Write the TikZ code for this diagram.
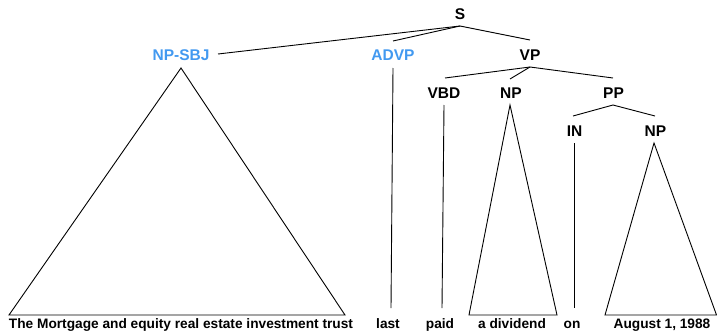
\documentclass[tikz,border=0pt]{standalone}
\usepackage{fontspec}
\setmainfont{Liberation Sans}
\definecolor{funclabel}{RGB}{66,153,240}
\tikzset{
  cat/.style={anchor=base, inner sep=0pt, font=\fontsize{15.5}{16}\selectfont\bfseries},
  funccat/.style={cat, text=funclabel},
  leaf/.style={anchor=base, inner sep=0pt, font=\fontsize{13.7}{14}\selectfont\bfseries},
  branch/.style={draw=black, line width=0.9pt, line join=miter}
}
\begin{document}
\begin{tikzpicture}[x=1pt, y=-1pt]
\useasboundingbox (0,0) rectangle (717,332);

% category labels
\node[cat]     (S)     at (460,19)   {S};
\node[funccat] (npsbj) at (181,60)   {NP-SBJ};
\node[funccat] (advp)  at (393,60)   {ADVP};
\node[cat]     (vp)    at (530,60)   {VP};
\node[cat]     (vbd)   at (444,98)   {VBD};
\node[cat]     (npa)   at (511,98)   {NP};
\node[cat]     (pp)    at (613.5,98) {PP};
\node[cat]     (in)    at (574.5,136){IN};
\node[cat]     (npb)   at (655.5,136){NP};

% words
\node[leaf] (w1) at (181,328.6) {The Mortgage and equity real estate investment trust};
\node[leaf] (w2) at (388,328.6) {last};
\node[leaf] (w3) at (440,328.6) {paid};
\node[leaf] (w4) at (512,328.6) {a dividend};
\node[leaf] (w5) at (572,328.6) {on};
\node[leaf] (w6) at (662,328.6) {August 1, 1988};

% attachment points
\coordinate (S-b)     at (460,26);
\coordinate (npsbj-t) at (218,54);
\coordinate (advp-t)  at (393,41);
\coordinate (vp-t)    at (530,40);
\coordinate (vp-b)    at (530,67);
\coordinate (vbd-t)   at (445,78);
\coordinate (npa-t)   at (510,79);
\coordinate (pp-t)    at (613,78);
\coordinate (pp-b)    at (613,105);
\coordinate (in-t)    at (573,116);
\coordinate (npb-t)   at (655,116);

\coordinate (npsbj-b) at (181,68);
\coordinate (advp-b)  at (393,68);
\coordinate (vbd-b)   at (444,105);
\coordinate (npa-b)   at (510,105);
\coordinate (in-b)    at (574,143);
\coordinate (npb-b)   at (654,143);

\coordinate (w1-l) at (9,315);   \coordinate (w1-r) at (345,315);
\coordinate (w2-t) at (391,308);
\coordinate (w3-t) at (442,308);
\coordinate (w4-l) at (469,315); \coordinate (w4-r) at (557,315);
\coordinate (w5-t) at (574,308);
\coordinate (w6-l) at (605,315); \coordinate (w6-r) at (716.5,315);

% branches
\draw[branch] (S-b) -- (npsbj-t);
\draw[branch] (S-b) -- (advp-t);
\draw[branch] (S-b) -- (vp-t);
\draw[branch] (vp-b) -- (vbd-t);
\draw[branch] (vp-b) -- (npa-t);
\draw[branch] (vp-b) -- (pp-t);
\draw[branch] (pp-b) -- (in-t);
\draw[branch] (pp-b) -- (npb-t);

% unary branches to words
\draw[branch] (advp-b) -- (w2-t);
\draw[branch] (vbd-b) -- (w3-t);
\draw[branch] (in-b) -- (w5-t);

% collapsed phrases
\draw[branch] (npsbj-b) -- (w1-l) -- (w1-r) -- cycle;
\draw[branch] (npa-b) -- (w4-l) -- (w4-r) -- cycle;
\draw[branch] (npb-b) -- (w6-l) -- (w6-r) -- cycle;
\end{tikzpicture}
\end{document}
